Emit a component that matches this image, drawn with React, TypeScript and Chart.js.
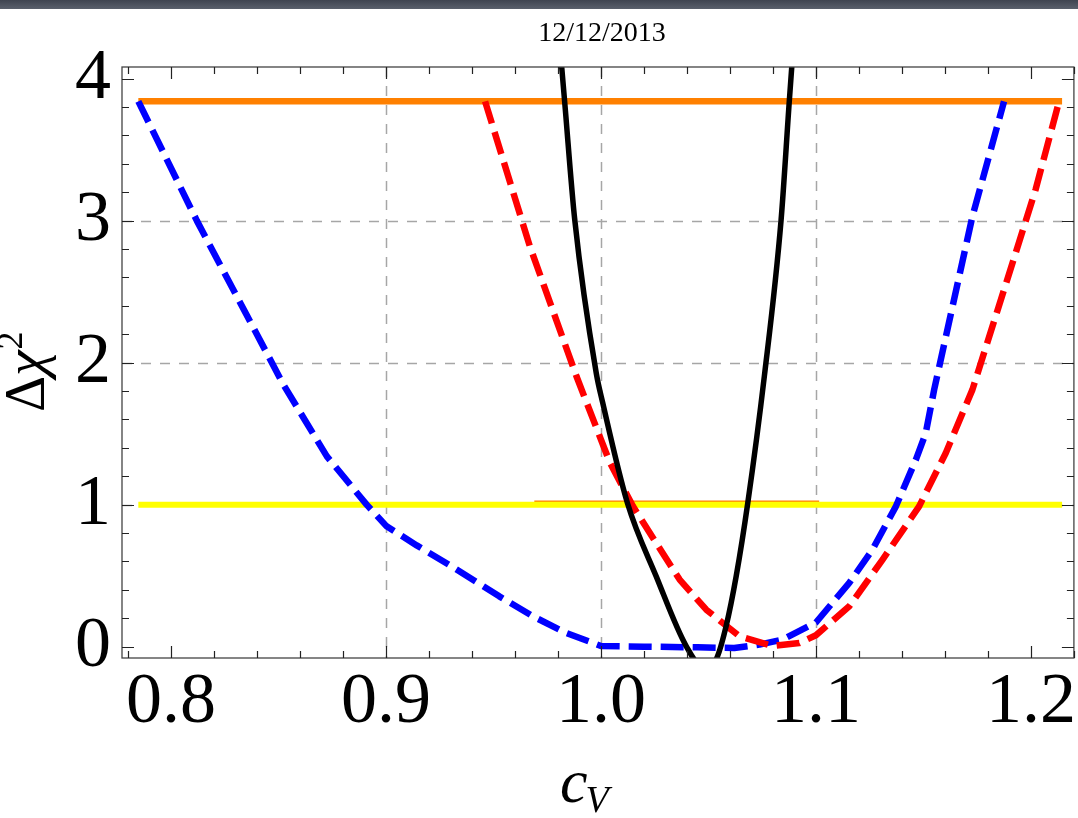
import React, { useEffect, useRef } from "react";
import { Chart, registerables } from "chart.js";

Chart.register(...registerables);

// ---- axis ranges and ticks ----
const X_MIN = 0.7772;
const X_MAX = 1.22;
const Y_MIN = -0.08;
const Y_MAX = 4.082;
const xTickValues = [0.8, 0.9, 1.0, 1.1, 1.2];
const yTickValues = [0, 1, 2, 3, 4];
const xGridValues = [0.9, 1.0, 1.1];
const yGridValues = [1, 2, 3];
const X_MINOR = 0.02;
const Y_MINOR = 0.2;

const titleText = "12/12/2013";

// ---- series ----
const blueX = [0.7848, 0.812, 0.8523, 0.8725, 0.891, 0.9003, 0.9143, 0.93, 0.9527, 0.9684, 0.9839, 1.0, 1.02, 1.045, 1.062, 1.0737, 1.0845, 1.1, 1.1155, 1.1263, 1.1372, 1.1465, 1.1511, 1.155, 1.1728, 1.1875];
const blueY = [3.84, 3.0, 1.845, 1.34, 1.0, 0.847, 0.713, 0.57, 0.354, 0.213, 0.096, 0.005, 0.0, -0.005, -0.01, 0.014, 0.05, 0.17, 0.449, 0.683, 0.988, 1.317, 1.505, 1.81, 3.03, 3.84];

const redX = [0.9461, 0.9669, 0.9886, 1.0042, 1.0149, 1.0257, 1.0366, 1.049, 1.0644, 1.0799, 1.0923, 1.1, 1.1155, 1.131, 1.148, 1.1604, 1.1728, 1.1914, 1.2022, 1.2131];
const redY = [3.84, 2.82, 1.904, 1.294, 0.988, 0.73, 0.472, 0.26, 0.073, 0.005, 0.026, 0.08, 0.284, 0.613, 0.988, 1.364, 1.81, 2.7, 3.22, 3.84];

const blackX = [0.9805, 0.9831, 0.9878, 0.9978, 1.0008, 1.0123, 1.0257, 1.0397, 1.0485, 1.0536, 1.0582, 1.0629, 1.0683, 1.076, 1.0838, 1.0876, 1.0898];
const blackY = [4.3, 3.84, 3.007, 1.927, 1.718, 1.012, 0.495, 0.002, -0.16, -0.09, 0.143, 0.495, 1.012, 1.904, 3.007, 3.84, 4.3];

const orangeX = [0.7848, 1.2145];
const orangeY = [3.84, 3.84];

const yellowX = [0.7848, 1.2145];
const yellowY = [1.0, 1.0];

const thinOrangeX = [0.969, 1.1015];
const thinOrangeY = [1.022, 1.022];

const SERIF = "'Liberation Serif', 'Times New Roman', serif";

const pts = (xs: number[], ys: number[]) => xs.map((x, i) => ({ x, y: ys[i] }));

const framePlugin = {
  id: "mmaFrame",
  beforeDatasetsDraw(chart: any) {
    const { ctx, chartArea: a, scales } = chart;
    const xs = scales.x;
    const ys = scales.y;
    ctx.save();
    ctx.strokeStyle = "#a6a6a6";
    ctx.lineWidth = 1.5;
    ctx.setLineDash([10, 9]);
    xGridValues.forEach((v) => {
      const p = Math.round(xs.getPixelForValue(v)) + 0.5;
      ctx.beginPath();
      ctx.moveTo(p, a.top);
      ctx.lineTo(p, a.bottom);
      ctx.stroke();
    });
    yGridValues.forEach((v) => {
      const p = Math.round(ys.getPixelForValue(v)) + 0.5;
      ctx.beginPath();
      ctx.moveTo(a.left, p);
      ctx.lineTo(a.right, p);
      ctx.stroke();
    });
    ctx.restore();
  },
  afterDatasetsDraw(chart: any) {
    const { ctx, chartArea: a, scales } = chart;
    const xs = scales.x;
    const ys = scales.y;
    ctx.save();
    ctx.setLineDash([]);
    ctx.strokeStyle = "#444";
    ctx.lineWidth = 1.3;
    ctx.strokeRect(a.left, a.top, a.right - a.left, a.bottom - a.top);
    ctx.lineWidth = 1.2;
    ctx.strokeStyle = "#222";
    const i0 = Math.ceil(X_MIN / X_MINOR - 1e-6);
    for (let i = i0; i * X_MINOR <= X_MAX + 1e-9; i++) {
      const v = i * X_MINOR;
      const major = i % 5 === 0;
      const len = major ? 12 : 7;
      const p = Math.round(xs.getPixelForValue(v)) + 0.5;
      ctx.beginPath();
      ctx.moveTo(p, a.bottom);
      ctx.lineTo(p, a.bottom - len);
      ctx.moveTo(p, a.top);
      ctx.lineTo(p, a.top + len);
      ctx.stroke();
    }
    const j0 = Math.ceil(Y_MIN / Y_MINOR - 1e-6);
    for (let j = j0; j * Y_MINOR <= Y_MAX + 1e-9; j++) {
      const v = j * Y_MINOR;
      const major = j % 5 === 0;
      const len = major ? 12 : 7;
      const p = Math.round(ys.getPixelForValue(v)) + 0.5;
      ctx.beginPath();
      ctx.moveTo(a.left, p);
      ctx.lineTo(a.left + len, p);
      ctx.moveTo(a.right, p);
      ctx.lineTo(a.right - len, p);
      ctx.stroke();
    }
    ctx.restore();
  },
  afterDraw(chart: any) {
    const { ctx, chartArea: a } = chart;
    ctx.save();
    ctx.fillStyle = "#000";
    // date title
    ctx.font = `28px ${SERIF}`;
    ctx.textAlign = "center";
    ctx.textBaseline = "alphabetic";
    ctx.fillText(titleText, 602, 41);
    // x axis title: c_V
    const cx = (a.left + a.right) / 2 - 38;
    ctx.textAlign = "left";
    ctx.font = `italic 62px ${SERIF}`;
    ctx.fillText("c", cx, 802);
    const cw = ctx.measureText("c").width;
    ctx.font = `italic 38px ${SERIF}`;
    ctx.fillText("V", cx + cw - 2, 812);
    // y axis title: Δχ²
    ctx.translate(44, 412);
    ctx.rotate(-Math.PI / 2);
    ctx.font = `56px ${SERIF}`;
    ctx.fillText("Δ", 0, 0);
    let off = ctx.measureText("Δ").width;
    ctx.font = `italic 58px ${SERIF}`;
    ctx.fillText("χ", off, 0);
    off += ctx.measureText("χ").width;
    ctx.font = `36px ${SERIF}`;
    ctx.fillText("2", off + 1, -22);
    ctx.restore();
  },
};

export default function App() {
  const ref = useRef<HTMLCanvasElement | null>(null);

  useEffect(() => {
    if (!ref.current) return;
    const dash = [23, 9];
    const chart = new Chart(ref.current, {
      type: "line",
      data: {
        datasets: [
          { label: "black", data: pts(blackX, blackY), borderColor: "#000000", borderWidth: 5.5, cubicInterpolationMode: "monotone" },
          { label: "red", data: pts(redX, redY), borderColor: "#ff0000", borderWidth: 6.5, borderDash: dash },
          { label: "blue", data: pts(blueX, blueY), borderColor: "#0000ff", borderWidth: 6.5, borderDash: dash },
          { label: "yellow", data: pts(yellowX, yellowY), borderColor: "#ffff00", borderWidth: 6 },
          { label: "thinOrange", data: pts(thinOrangeX, thinOrangeY), borderColor: "#ff8000", borderWidth: 2 },
          { label: "orange", data: pts(orangeX, orangeY), borderColor: "#ff8000", borderWidth: 6.5 },
        ].map((d: any) => ({
          tension: 0,
          ...d,
          pointRadius: 0,
          fill: false,
          borderCapStyle: "butt",
          borderJoinStyle: "round",
        })),
      },
      options: {
        animation: false,
        responsive: false,
        maintainAspectRatio: false,
        layout: { padding: { top: 67, right: 2, left: 0, bottom: 0 } },
        plugins: {
          legend: { display: false },
          tooltip: { enabled: false },
          title: { display: false },
        },
        scales: {
          x: {
            type: "linear",
            min: X_MIN,
            max: X_MAX,
            grid: { display: false, drawTicks: false },
            border: { display: false },
            afterBuildTicks: (s: any) => {
              s.ticks = xTickValues.map((v) => ({ value: v }));
            },
            afterFit: (s: any) => {
              s.height = 160;
            },
            ticks: {
              callback: (v: any) => Number(v).toFixed(1),
              font: { family: SERIF, size: 72 },
              color: "#000",
              padding: 2,
              maxRotation: 0,
              autoSkip: false,
            },
          },
          y: {
            type: "linear",
            min: Y_MIN,
            max: Y_MAX,
            grid: { display: false, drawTicks: false },
            border: { display: false },
            afterBuildTicks: (s: any) => {
              s.ticks = yTickValues.map((v) => ({ value: v }));
            },
            afterFit: (s: any) => {
              s.width = 122;
            },
            ticks: {
              callback: (v: any) => String(v),
              font: { family: SERIF, size: 72 },
              color: "#000",
              padding: 11,
              autoSkip: false,
            },
          },
        },
      } as any,
      plugins: [framePlugin],
    });
    return () => chart.destroy();
  }, []);

  return (
    <div style={{ position: "absolute", left: 0, top: 0, width: 1078, height: 818, background: "#fff", overflow: "hidden" }}>
      <div
        style={{
          position: "absolute",
          left: 0,
          top: 0,
          width: 1078,
          height: 9,
          background: "linear-gradient(#3f4450, #5a606c)",
        }}
      />
      <canvas ref={ref} width={1078} height={818} style={{ position: "absolute", left: 0, top: 0, display: "block" }} />
    </div>
  );
}
